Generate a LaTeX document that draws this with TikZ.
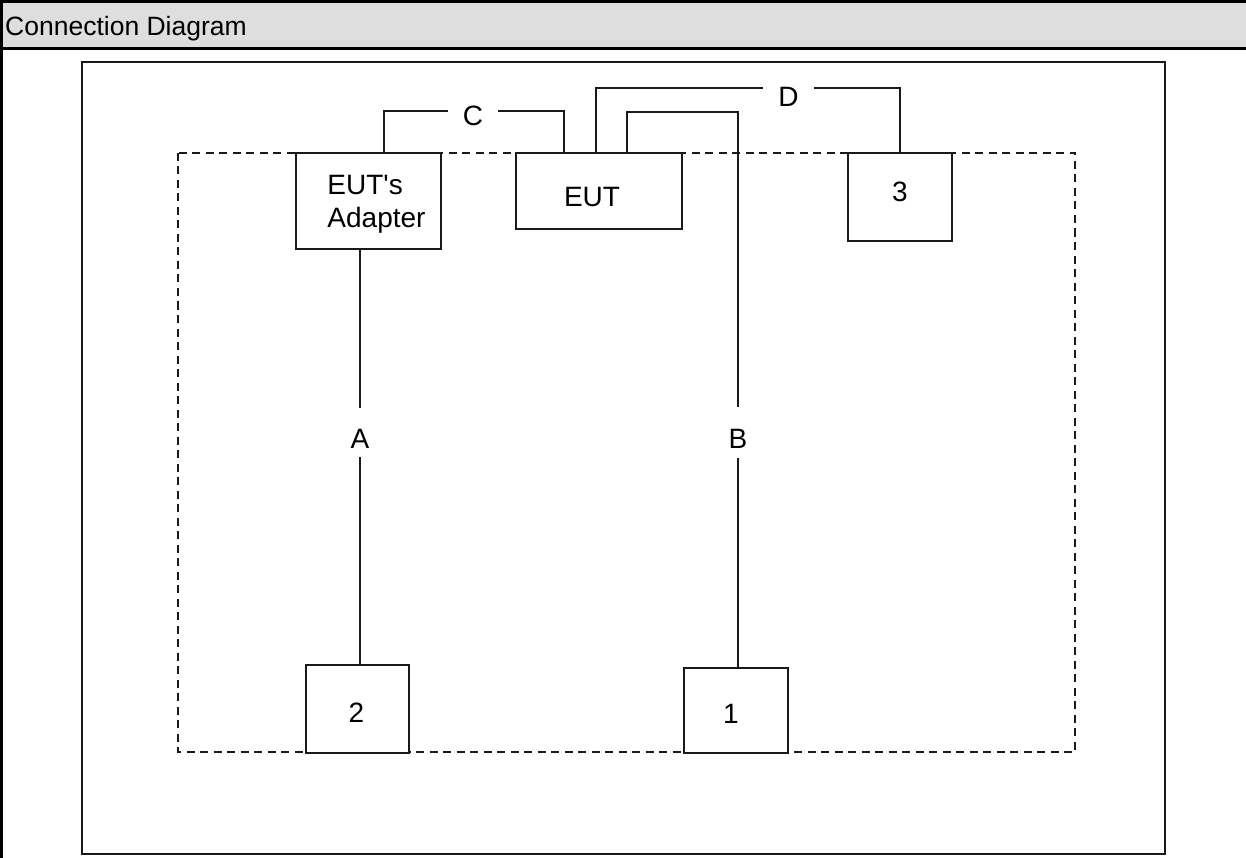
\documentclass[tikz,border=0pt]{standalone}
\usepackage{fontspec}
\setmainfont{Liberation Sans}[Ligatures=TeXOff]
\usetikzlibrary{calc}
\definecolor{headgray}{HTML}{DEDEDE}
\definecolor{ink}{HTML}{1A1A1A}
\tikzset{
  box/.style={draw=ink, line width=2pt, fill=white, inner sep=0pt},
  boxtext/.style={inner sep=0pt, font=\fontsize{28}{33}\selectfont, align=left},
  wire/.style={draw=ink, line width=2pt},
  lab/.style={fill=white, inner sep=0pt, font=\fontsize{28}{30}\selectfont},
  frame/.style={draw=ink, line width=2pt},
  zone/.style={draw=ink, line width=2pt, dash pattern=on 8pt off 5.5pt},
}
\begin{document}
\begin{tikzpicture}[x=1pt,y=-1pt]
\useasboundingbox (0,0) rectangle (1246,858);
% header
\fill[headgray] (0,0) rectangle (1246,48);
\draw[black, line width=3pt] (0,1.5) -- (1246,1.5);
\draw[black, line width=3pt] (0,48.5) -- (1246,48.5);
\draw[black, line width=3pt] (1.5,0) -- (1.5,858);
\node[anchor=base west, inner sep=0pt, font=\fontsize{26.5}{30}\selectfont] (title) at (5,36) {Connection Diagram};
% outer frame and dashed zone
\draw[frame] (82,62) rectangle (1165,854);
\draw[zone] (178,153) rectangle (1075,752);
% boxes
\node[box, minimum width=145pt, minimum height=96pt,
      label={[boxtext, xshift=8pt, yshift=-3pt]center:EUT's\\Adapter}] (adapter) at (368.5,201) {};
\node[box, minimum width=166pt, minimum height=76pt,
      label={[boxtext, xshift=-7pt, yshift=-6pt]center:EUT}] (eut) at (599,191) {};
\node[box, minimum width=104pt, minimum height=88pt,
      label={[boxtext, yshift=5pt]center:3}] (b3) at (900,197) {};
\node[box, minimum width=103pt, minimum height=88pt,
      label={[boxtext, xshift=-1pt, yshift=-4pt]center:2}] (b2) at (357.5,709) {};
\node[box, minimum width=104pt, minimum height=85pt,
      label={[boxtext, xshift=-5pt, yshift=-3.5pt]center:1}] (b1) at (736,710.5) {};
% connectors
\draw[wire] ([xshift=15.5pt]adapter.north) |- ([xshift=-35pt,yshift=41pt]eut.north) -- ([xshift=-35pt]eut.north);
\draw[wire] ([xshift=-3pt]eut.north) |- ([yshift=64pt]b3.north) -- (b3.north);
\draw[wire] ([xshift=28pt]eut.north) |- ([xshift=2pt,yshift=40pt]eut.north -| b1.north) -- ([xshift=2pt]b1.north);
\draw[wire] ([xshift=-8.5pt]adapter.south) -- ([xshift=-8.5pt]adapter.south |- b2.north);
% labels on wires
\node[lab, minimum width=50pt, minimum height=12pt, label={[boxtext, yshift=-4pt]center:C}] (lC) at (473,112) {};
\node[lab, minimum width=51pt, minimum height=12pt, label={[boxtext, yshift=-8pt]center:D}] (lD) at (788.5,89) {};
\node[lab, minimum width=20pt, minimum height=49pt, label={[boxtext, yshift=-6pt]center:A}] (lA) at (360,432.5) {};
\node[lab, minimum width=20pt, minimum height=51pt, label={[boxtext, yshift=-6pt]center:B}] (lB) at (738,432.5) {};
\end{tikzpicture}
\end{document}
